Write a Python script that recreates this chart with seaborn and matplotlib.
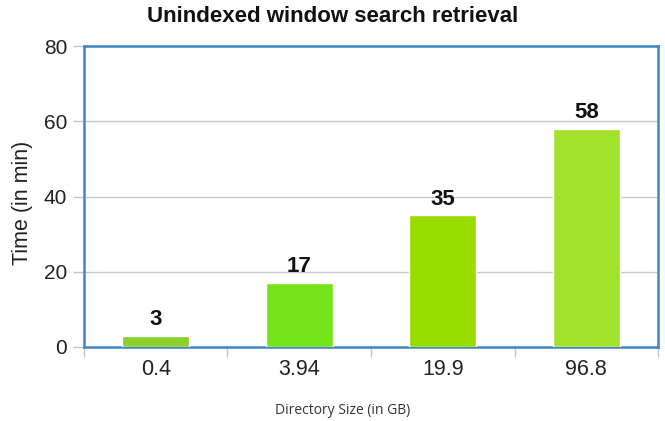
import matplotlib
matplotlib.use("Agg")
import matplotlib.pyplot as plt
import seaborn as sns
import pandas as pd
from matplotlib.ticker import FixedLocator

sizes = ["0.4", "3.94", "19.9", "96.8"]
minutes = [3, 17, 35, 58]
bar_colors = ["#8bd02c", "#74e31a", "#99dd00", "#a2e22a"]
y_ticks = [0, 20, 40, 60, 80]

sns.set_style("white")
plt.rcParams["font.family"] = ["Liberation Sans", "DejaVu Sans"]

df = pd.DataFrame({"size": sizes, "minutes": minutes})

fig = plt.figure(figsize=(6.65, 4.21), dpi=100)
ax = fig.add_axes([0.1263, 0.1758, 0.8632, 0.7149])

sns.barplot(data=df, x="size", y="minutes", hue="size", palette=bar_colors,
            legend=False, width=0.47, saturation=1, ax=ax, zorder=3)

ax.set_ylim(0, 80)
ax.set_xlim(-0.5, len(sizes) - 0.5)
ax.set_yticks(y_ticks)
ax.yaxis.grid(True, color="#c9c9c9", linewidth=1, zorder=0)
ax.set_axisbelow(True)

blue = "#3f87c4"
for side in ["left", "right", "top", "bottom"]:
    ax.spines[side].set_visible(True)
    ax.spines[side].set_color(blue)
    ax.spines[side].set_linewidth(1.8)

ax.tick_params(axis="y", which="major", length=8, width=1, color="#c4c4c4",
               labelsize=15, pad=4, left=True, labelcolor="#222222")
ax.tick_params(axis="x", which="major", length=0, labelsize=15.5, pad=9,
               labelcolor="#222222")
ax.xaxis.set_minor_locator(FixedLocator([i - 0.5 for i in range(len(sizes) + 1)]))
ax.tick_params(axis="x", which="minor", length=7.5, width=1, color="#c4c4c4",
               bottom=True)

for container in ax.containers:
    ax.bar_label(container, fmt="%d", padding=4, fontsize=16,
                 fontweight="bold", color="#111111")

ax.set_ylabel("Time (in min)", fontsize=15.5, color="#222222")
ax.yaxis.set_label_coords(-0.089, 0.48)
ax.set_xlabel("Directory Size (in GB)", fontsize=10, color="#333333",
              family=["Open Sans", "DejaVu Sans"])
ax.xaxis.set_label_coords(0.451, -0.186)
fig.suptitle("Unindexed window search retrieval", fontsize=16,
             fontweight="bold", y=0.985, x=0.5, color="#111111")

fig.savefig("out.png", dpi=100)
